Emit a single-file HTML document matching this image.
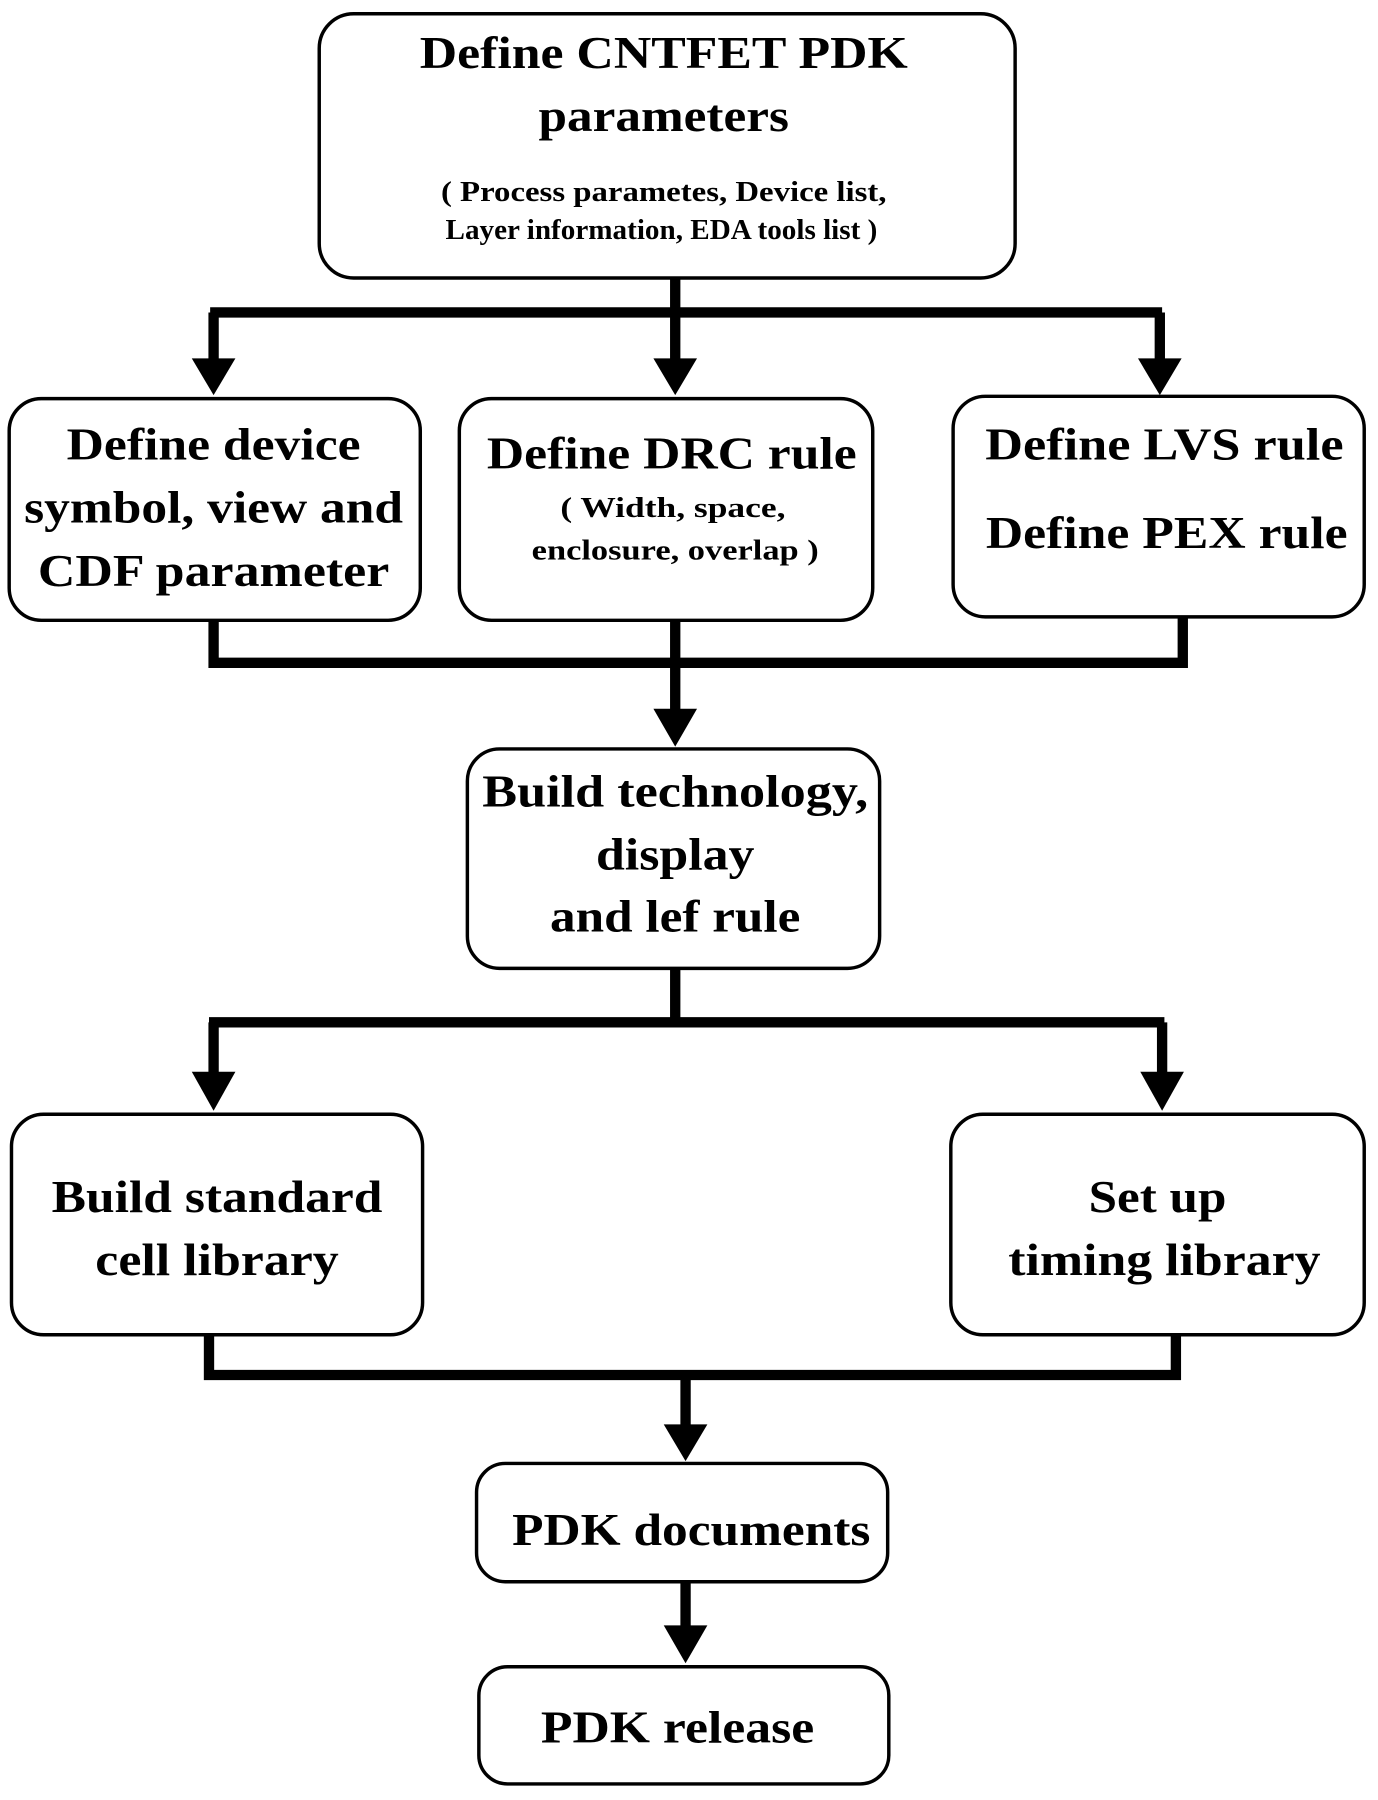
<!DOCTYPE html>
<html><head><style>html,body{margin:0;padding:0;background:#fff}svg{display:block}</style></head>
<body>
<svg width="1378" height="1800" viewBox="0 0 1200 1567" preserveAspectRatio="none" xmlns="http://www.w3.org/2000/svg">
<g fill="none" stroke="#000" stroke-width="3">
<rect x="278" y="12" width="606" height="230" rx="30"/>
<rect x="8" y="347" width="358" height="193" rx="28"/>
<rect x="400" y="347" width="360" height="193" rx="28"/>
<rect x="830" y="345" width="358" height="192" rx="28"/>
<rect x="407" y="652" width="359" height="191" rx="28"/>
<rect x="10" y="970" width="358" height="192" rx="28"/>
<rect x="828" y="970" width="360" height="192" rx="28"/>
<rect x="415" y="1274" width="358" height="103" rx="25"/>
<rect x="417" y="1451" width="357" height="102" rx="25"/>
</g>
<g fill="none" stroke="#000" stroke-width="9">
<path d="M588 242V272M183 272H1012M186 272V315M588 272V315M1010 272V315"/>
<path d="M186 540V577H1030V537M588 540V620"/>
<path d="M588 843V890M182 890H1014M186 890V935M1012 890V935"/>
<path d="M182 1162V1197H1024V1162M597 1197V1242"/>
<path d="M597 1377V1418"/>
</g>
<g fill="#000">
<polygon points="167,312 205,312 186,344"/>
<polygon points="569,312 607,312 588,344"/>
<polygon points="991,312 1029,312 1010,344"/>
<polygon points="569,617 607,617 588,650"/>
<polygon points="167,933 205,933 186,967"/>
<polygon points="993,933 1031,933 1012,967"/>
<polygon points="578,1240 616,1240 597,1272"/>
<polygon points="578,1415 616,1415 597,1448"/>
</g>
<g font-family="Liberation Serif, serif" font-weight="bold" font-size="40" text-anchor="middle" fill="#000">
<text x="578" y="59" textLength="425" lengthAdjust="spacingAndGlyphs">Define CNTFET PDK</text>
<text x="578" y="114" textLength="218" lengthAdjust="spacingAndGlyphs">parameters</text>
<text x="186" y="400" textLength="256" lengthAdjust="spacingAndGlyphs">Define device</text>
<text x="186" y="455" textLength="330" lengthAdjust="spacingAndGlyphs">symbol, view and</text>
<text x="186" y="510" textLength="306" lengthAdjust="spacingAndGlyphs">CDF parameter</text>
<text x="585" y="408" textLength="322" lengthAdjust="spacingAndGlyphs">Define DRC rule</text>
<text x="1014" y="400" textLength="312" lengthAdjust="spacingAndGlyphs">Define LVS rule</text>
<text x="1016" y="477" textLength="315" lengthAdjust="spacingAndGlyphs">Define PEX rule</text>
<text x="588" y="702" textLength="336" lengthAdjust="spacingAndGlyphs">Build technology,</text>
<text x="588" y="757" textLength="138" lengthAdjust="spacingAndGlyphs">display</text>
<text x="588" y="811" textLength="218" lengthAdjust="spacingAndGlyphs">and lef rule</text>
<text x="189" y="1055" textLength="288" lengthAdjust="spacingAndGlyphs">Build standard</text>
<text x="189" y="1110" textLength="212" lengthAdjust="spacingAndGlyphs">cell library</text>
<text x="1008" y="1055" textLength="120" lengthAdjust="spacingAndGlyphs">Set up</text>
<text x="1014" y="1110" textLength="272" lengthAdjust="spacingAndGlyphs">timing library</text>
<text x="602" y="1345" textLength="312" lengthAdjust="spacingAndGlyphs">PDK documents</text>
<text x="590" y="1517" textLength="238" lengthAdjust="spacingAndGlyphs">PDK release</text>
</g>
<g font-family="Liberation Serif, serif" font-weight="bold" font-size="25" text-anchor="middle" fill="#000">
<text x="578" y="175" textLength="388" lengthAdjust="spacingAndGlyphs">( Process parametes, Device list,</text>
<text x="576" y="208" textLength="376" lengthAdjust="spacingAndGlyphs">Layer information, EDA tools list )</text>
<text x="586" y="450" textLength="196" lengthAdjust="spacingAndGlyphs">( Width, space,</text>
<text x="588" y="487" textLength="250" lengthAdjust="spacingAndGlyphs">enclosure, overlap )</text>
</g>
</svg>
</body></html>
